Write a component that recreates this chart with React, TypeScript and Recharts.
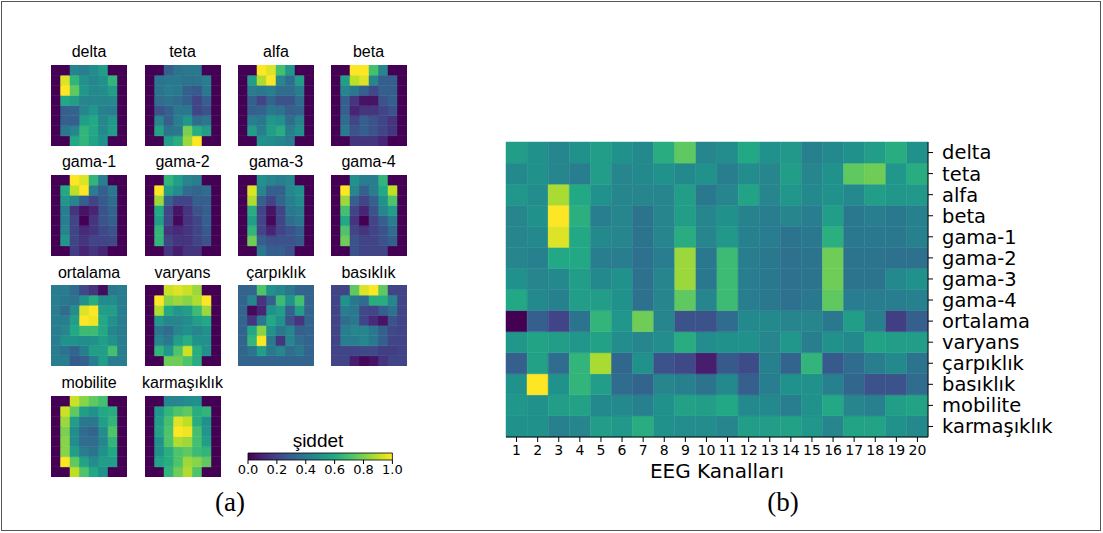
import React from 'react';
import { BarChart, Bar, Cell, XAxis, YAxis } from 'recharts';

// ---------- data ----------
const channels = ['1','2','3','4','5','6','7','8','9','10','11','12','13','14','15','16','17','18','19','20'];
const features = ['delta','teta','alfa','beta','gama-1','gama-2','gama-3','gama-4','ortalama','varyans','çarpıklık','basıklık','mobilite','karmaşıklık'];

// rows = features (top to bottom), cols = channels 1..20
const deltaRow = [0.55,0.5,0.45,0.5,0.55,0.5,0.47,0.62,0.75,0.45,0.48,0.6,0.5,0.53,0.43,0.47,0.5,0.55,0.62,0.5];
const tetaRow = [0.47,0.5,0.45,0.42,0.55,0.45,0.47,0.5,0.47,0.5,0.42,0.48,0.45,0.55,0.45,0.5,0.75,0.78,0.52,0.62];
const alfaRow = [0.52,0.48,0.87,0.6,0.5,0.45,0.45,0.45,0.55,0.4,0.45,0.58,0.45,0.52,0.47,0.5,0.47,0.55,0.52,0.53];
const betaRow = [0.45,0.5,1.0,0.63,0.42,0.45,0.38,0.45,0.55,0.45,0.5,0.44,0.42,0.45,0.42,0.55,0.4,0.42,0.4,0.43];
const gama1Row = [0.45,0.47,0.95,0.6,0.47,0.45,0.38,0.45,0.62,0.45,0.53,0.43,0.42,0.38,0.4,0.63,0.4,0.4,0.4,0.43];
const gama2Row = [0.45,0.43,0.6,0.6,0.42,0.42,0.37,0.42,0.85,0.4,0.68,0.42,0.4,0.37,0.38,0.78,0.38,0.38,0.37,0.37];
const gama3Row = [0.5,0.45,0.47,0.55,0.47,0.5,0.37,0.45,0.85,0.4,0.68,0.42,0.4,0.37,0.38,0.78,0.38,0.38,0.47,0.5];
const gama4Row = [0.6,0.47,0.43,0.55,0.55,0.5,0.37,0.45,0.75,0.45,0.68,0.42,0.4,0.37,0.4,0.75,0.42,0.42,0.42,0.43];
const ortalamaRow = [0.0,0.3,0.2,0.38,0.65,0.52,0.78,0.45,0.25,0.25,0.35,0.47,0.47,0.45,0.45,0.4,0.55,0.43,0.18,0.3];
const varyansRow = [0.52,0.58,0.55,0.52,0.57,0.48,0.45,0.48,0.62,0.48,0.5,0.5,0.45,0.52,0.42,0.5,0.47,0.58,0.55,0.55];
const carpiklikRow = [0.3,0.57,0.35,0.65,0.87,0.33,0.5,0.25,0.22,0.08,0.28,0.23,0.43,0.32,0.65,0.28,0.35,0.42,0.47,0.38];
const basiklikRow = [0.5,1.0,0.5,0.65,0.55,0.35,0.32,0.45,0.43,0.38,0.47,0.3,0.42,0.5,0.5,0.43,0.33,0.25,0.25,0.35];
const mobiliteRow = [0.52,0.5,0.55,0.57,0.47,0.47,0.43,0.5,0.57,0.55,0.6,0.47,0.47,0.42,0.5,0.6,0.45,0.43,0.55,0.58];
const karmasiklikRow = [0.5,0.5,0.43,0.45,0.55,0.53,0.62,0.5,0.48,0.48,0.45,0.55,0.55,0.57,0.52,0.45,0.58,0.58,0.5,0.47];

const bigRows = [deltaRow,tetaRow,alfaRow,betaRow,gama1Row,gama2Row,gama3Row,gama4Row,ortalamaRow,varyansRow,carpiklikRow,basiklikRow,mobiliteRow,karmasiklikRow];

// small 8x8 topographic maps (row 0 = top)
const mapDelta = [
  [0,0,0.45,0.42,0.48,0.55,0,0],
  [0,0.95,0.65,0.5,0.45,0.5,0.65,0],
  [0,1.0,0.75,0.52,0.47,0.48,0.55,0],
  [0,0.6,0.55,0.45,0.45,0.45,0.47,0],
  [0,0.3,0.32,0.45,0.52,0.43,0.42,0],
  [0,0.3,0.3,0.55,0.6,0.45,0.53,0],
  [0,0.4,0.45,0.65,0.6,0.47,0.55,0],
  [0,0,0.6,0.65,0.58,0.5,0,0],
];
const mapTeta = [
  [0,0,0.3,0.38,0.4,0.4,0,0],
  [0,0.38,0.4,0.4,0.38,0.38,0.42,0],
  [0,0.38,0.42,0.4,0.3,0.28,0.4,0],
  [0,0.35,0.38,0.35,0.3,0.2,0.3,0],
  [0,0.25,0.3,0.4,0.4,0.2,0.25,0],
  [0,0.45,0.3,0.42,0.52,0.35,0.4,0],
  [0,0.58,0.38,0.4,0.8,0.62,0.55,0],
  [0,0,0.55,0.62,0.85,1.0,0,0],
];
const mapAlfa = [
  [0,0,1.0,0.95,0.7,0.52,0,0],
  [0,0.55,0.88,1.0,0.45,0.35,0.55,0],
  [0,0.42,0.4,0.42,0.35,0.35,0.42,0],
  [0,0.3,0.2,0.32,0.25,0.25,0.35,0],
  [0,0.3,0.32,0.4,0.38,0.3,0.32,0],
  [0,0.42,0.4,0.52,0.5,0.35,0.45,0],
  [0,0.55,0.42,0.55,0.62,0.42,0.5,0],
  [0,0,0.5,0.48,0.45,0.42,0,0],
];
const mapBeta = [
  [0,0,1.0,1.0,0.7,0.45,0,0],
  [0,0.55,0.9,0.95,0.45,0.3,0.3,0],
  [0,0.45,0.4,0.3,0.22,0.3,0.3,0],
  [0,0.3,0.15,0.05,0.05,0.25,0.3,0],
  [0,0.3,0.1,0.15,0.15,0.2,0.25,0],
  [0,0.35,0.2,0.3,0.25,0.2,0.15,0],
  [0,0.4,0.25,0.3,0.25,0.2,0.15,0],
  [0,0,0.15,0.15,0.15,0.1,0,0],
];
const mapGama1 = [
  [0,0,1.0,0.95,0.65,0.42,0,0],
  [0,0.6,0.9,1.0,0.42,0.3,0.4,0],
  [0,0.52,0.45,0.3,0.2,0.28,0.35,0],
  [0,0.42,0.15,0.05,0.1,0.25,0.32,0],
  [0,0.42,0.2,0.0,0.15,0.25,0.3,0],
  [0,0.45,0.2,0.12,0.15,0.22,0.25,0],
  [0,0.52,0.2,0.15,0.2,0.2,0.22,0],
  [0,0,0.18,0.1,0.15,0.1,0,0],
];
const mapGama2 = [
  [0,0,0.65,0.55,0.45,0.42,0,0],
  [0,1.0,0.55,0.48,0.35,0.32,0.35,0],
  [0,0.85,0.3,0.2,0.2,0.3,0.3,0],
  [0,0.6,0.2,0.05,0.15,0.25,0.3,0],
  [0,0.55,0.2,0.02,0.15,0.2,0.3,0],
  [0,0.65,0.15,0.12,0.15,0.2,0.28,0],
  [0,0.65,0.2,0.15,0.15,0.2,0.25,0],
  [0,0,0.15,0.08,0.15,0.15,0,0],
];
const mapGama3 = [
  [0,0,0.5,0.45,0.42,0.45,0,0],
  [0,0.95,0.45,0.3,0.3,0.45,0.5,0],
  [0,0.88,0.3,0.2,0.32,0.42,0.48,0],
  [0,0.62,0.2,0.05,0.2,0.4,0.42,0],
  [0,0.55,0.2,0.02,0.2,0.35,0.4,0],
  [0,0.65,0.2,0.1,0.2,0.25,0.3,0],
  [0,0.78,0.3,0.25,0.25,0.25,0.28,0],
  [0,0,0.4,0.3,0.3,0.25,0,0],
];
const mapGama4 = [
  [0,0,0.5,0.42,0.42,0.65,0,0],
  [0,1.0,0.45,0.3,0.42,0.6,0.9,0],
  [0,0.85,0.3,0.2,0.3,0.5,0.72,0],
  [0,0.7,0.2,0.1,0.25,0.45,0.55,0],
  [0,0.6,0.15,0.0,0.2,0.3,0.42,0],
  [0,0.72,0.2,0.15,0.2,0.25,0.35,0],
  [0,0.78,0.25,0.2,0.2,0.25,0.3,0],
  [0,0,0.25,0.2,0.2,0.2,0,0],
];
const mapOrtalama = [
  [0.42,0.42,0.35,0.22,0.15,0.03,0.4,0.42],
  [0.42,0.4,0.38,0.5,0.62,0.48,0.48,0.42],
  [0.42,0.35,0.48,0.95,1.0,0.55,0.55,0.42],
  [0.42,0.42,0.55,1.0,0.98,0.6,0.5,0.42],
  [0.42,0.45,0.6,0.68,0.68,0.6,0.45,0.42],
  [0.42,0.5,0.5,0.48,0.5,0.55,0.5,0.42],
  [0.42,0.38,0.32,0.42,0.55,0.55,0.7,0.42],
  [0.42,0.42,0.28,0.3,0.42,0.55,0.42,0.42],
];
const mapVaryans = [
  [0,0,0.92,0.95,0.92,0.85,0,0],
  [0,1.0,0.82,0.85,0.82,0.88,1.0,0],
  [0,0.88,0.6,0.52,0.55,0.68,0.85,0],
  [0,0.52,0.45,0.45,0.48,0.55,0.6,0],
  [0,0.4,0.35,0.45,0.5,0.45,0.5,0],
  [0,0.45,0.4,0.55,0.62,0.5,0.5,0],
  [0,0.65,0.52,0.72,0.92,0.62,0.5,0],
  [0,0,0.78,0.78,0.72,0.62,0,0],
];
const mapCarpiklik = [
  [0.32,0.32,0.72,0.5,0.45,0.4,0.32,0.32],
  [0.32,0.45,0.15,0.3,0.68,0.5,0.7,0.32],
  [0.32,0.02,0.1,0.5,0.55,0.3,0.55,0.32],
  [0.32,0.15,0.4,0.6,0.5,0.25,0.15,0.32],
  [0.32,0.6,0.82,0.5,0.4,0.45,0.3,0.32],
  [0.32,0.65,1.0,0.4,0.15,0.45,0.35,0.32],
  [0.32,0.38,0.55,0.4,0.45,0.35,0.4,0.32],
  [0.32,0.32,0.32,0.32,0.32,0.32,0.32,0.32],
];
const mapBasiklik = [
  [0.2,0.2,0.75,0.95,1.0,0.75,0.2,0.2],
  [0.2,0.5,0.4,0.35,0.62,0.62,0.45,0.2],
  [0.2,0.42,0.4,0.22,0.2,0.3,0.38,0.2],
  [0.2,0.35,0.4,0.2,0.12,0.05,0.25,0.2],
  [0.2,0.42,0.45,0.45,0.4,0.3,0.22,0.2],
  [0.2,0.42,0.42,0.45,0.4,0.3,0.2,0.2],
  [0.2,0.2,0.2,0.22,0.22,0.18,0.18,0.2],
  [0.2,0.2,0.08,0.02,0.05,0.15,0.2,0.2],
];
const mapMobilite = [
  [0,0,0.92,0.82,0.75,0.7,0,0],
  [0,0.92,0.75,0.55,0.5,0.6,0.62,0],
  [0,0.85,0.55,0.4,0.4,0.55,0.65,0],
  [0,0.8,0.48,0.35,0.32,0.48,0.72,0],
  [0,0.82,0.48,0.35,0.35,0.45,0.65,0],
  [0,0.82,0.55,0.42,0.38,0.5,0.6,0],
  [0,1.0,0.75,0.58,0.48,0.55,0.55,0],
  [0,0,0.9,0.72,0.6,0.5,0,0],
];
const mapKarmasiklik = [
  [0,0,0.45,0.45,0.48,0.5,0,0],
  [0,0.52,0.65,0.72,0.75,0.62,0.65,0],
  [0,0.55,0.7,0.95,0.9,0.62,0.5,0],
  [0,0.58,0.72,1.0,0.98,0.7,0.52,0],
  [0,0.5,0.72,0.88,0.85,0.7,0.55,0],
  [0,0.5,0.62,0.72,0.75,0.68,0.65,0],
  [0,0.58,0.62,0.72,0.85,0.82,0.75,0],
  [0,0,0.65,0.78,0.88,0.72,0,0],
];

const smallTitles = ['delta','teta','alfa','beta','gama-1','gama-2','gama-3','gama-4','ortalama','varyans','çarpıklık','basıklık','mobilite','karmaşıklık'];
const smallGrids = [mapDelta,mapTeta,mapAlfa,mapBeta,mapGama1,mapGama2,mapGama3,mapGama4,mapOrtalama,mapVaryans,mapCarpiklik,mapBasiklik,mapMobilite,mapKarmasiklik];

const colorbarTicks = [0, 0.2, 0.4, 0.6, 0.8, 1.0];
const colorbarRange = [{ name: 'şiddet', from: 0, to: 1 }];
const colorbarLabel = 'şiddet';
const xAxisLabel = 'EEG Kanalları';

// ---------- colour map ----------
const VIRIDIS = ['#440154','#482475','#414487','#355f8d','#2a788e','#21918c','#22a884','#44bf70','#7ad151','#bddf26','#fde725'];
function hexToRgb(h: string) {
  return [parseInt(h.slice(1, 3), 16), parseInt(h.slice(3, 5), 16), parseInt(h.slice(5, 7), 16)];
}
function viridis(v: number): string {
  const x = Math.max(0, Math.min(1, v)) * 10;
  const i = Math.min(9, Math.floor(x));
  const t = x - i;
  const a = hexToRgb(VIRIDIS[i]);
  const b = hexToRgb(VIRIDIS[i + 1]);
  const c = a.map((av, k) => Math.round(av + (b[k] - av) * t));
  return `rgb(${c[0]},${c[1]},${c[2]})`;
}

const SANS = 'Liberation Sans, Arial, sans-serif';
const DEJAVU = 'DejaVu Sans, sans-serif';

// ---------- small heatmap ----------
function SmallMap({ grid, left, top }: { grid: number[][]; left: number; top: number }) {
  const nRows = grid.length;
  const nCols = grid[0].length;
  const data = Array.from({ length: nCols }, (_, c) => {
    const o: any = { c: String(c) };
    for (let r = 0; r < nRows; r++) o['r' + r] = 1;
    return o;
  });
  const order = Array.from({ length: nRows }, (_, i) => nRows - 1 - i);
  return (
    <div style={{ position: 'absolute', left, top }}>
      <BarChart width={76} height={81} data={data} margin={{ top: 0, right: 0, bottom: 0, left: 0 }} barCategoryGap={0} barGap={0}>
        <XAxis dataKey="c" hide />
        <YAxis type="number" domain={[0, nRows]} hide />
        {order.map((r) => (
          <Bar key={r} dataKey={'r' + r} stackId="s" isAnimationActive={false}>
            {grid[r].map((v, c) => (
              <Cell key={c} fill={viridis(v)} stroke={viridis(v)} strokeWidth={0.5} />
            ))}
          </Bar>
        ))}
      </BarChart>
    </div>
  );
}

// ---------- main ----------
export default function App() {
  const bigData = channels.map((ch) => {
    const o: any = { ch };
    features.forEach((_, r) => (o['f' + r] = 1));
    return o;
  });
  const bigOrder = features.map((_, i) => features.length - 1 - i);
  const yTicks = features.map((_, i) => i + 0.5);

  const mapX = [51, 144.5, 238, 330.5];
  const mapY = [64.5, 174.5, 285, 395.5];

  return (
    <div style={{ position: 'absolute', left: 0, top: 0, width: 1103, height: 533, background: '#fff', overflow: 'hidden' }}>
      <svg width={1} height={1} style={{ position: 'absolute', left: 0, top: 0 }}>
        <defs>
          <linearGradient id="viridisGrad" x1="0" y1="0" x2="1" y2="0">
            {VIRIDIS.map((c, i) => (
              <stop key={i} offset={i / 10} stopColor={c} />
            ))}
          </linearGradient>
        </defs>
      </svg>

      {smallGrids.map((g, i) => (
        <SmallMap key={i} grid={g} left={mapX[i % 4]} top={mapY[Math.floor(i / 4)]} />
      ))}

      {/* colorbar */}
      <div style={{ position: 'absolute', left: 238, top: 445 }}>
        <BarChart
          layout="vertical"
          width={170}
          height={40}
          data={colorbarRange}
          margin={{ top: 8, right: 15.6, bottom: 0, left: 10 }}
          barCategoryGap={0}
        >
          <XAxis
            type="number"
            domain={[0, 1]}
            ticks={colorbarTicks}
            tickFormatter={(v: number) => v.toFixed(1)}
            height={25}
            tickSize={4}
            tickMargin={1}
            axisLine={false}
            tickLine={{ stroke: '#000' }}
            tick={{ fill: '#000', fontSize: 13, fontFamily: DEJAVU }}
            interval={0}
          />
          <YAxis type="category" dataKey="name" hide />
          <Bar dataKey={(d: any) => [d.from, d.to]} fill="url(#viridisGrad)" stroke="#000" strokeWidth={0.8} isAnimationActive={false} />
        </BarChart>
      </div>

      {/* big heatmap */}
      <div style={{ position: 'absolute', left: 480, top: 120 }}>
        <BarChart width={620} height={370} data={bigData} margin={{ top: 22, right: 2, bottom: 0, left: 26 }} barCategoryGap={0} barGap={0}>
          <XAxis
            dataKey="ch"
            height={53}
            tickSize={5}
            tickMargin={3}
            interval={0}
            axisLine={{ stroke: '#000', strokeWidth: 1 }}
            tickLine={{ stroke: '#000' }}
            tick={{ fill: '#000', fontSize: 14, fontFamily: DEJAVU }}
          />
          <XAxis xAxisId="top" dataKey="ch" orientation="top" height={0} tick={false} tickLine={false} axisLine={{ stroke: '#000', strokeWidth: 1 }} />
          <YAxis
            type="number"
            orientation="right"
            domain={[0, features.length]}
            ticks={yTicks}
            interval={0}
            width={170}
            tickSize={5}
            tickMargin={9}
            tickFormatter={(v: number) => features[features.length - 1 - Math.floor(v)]}
            axisLine={{ stroke: '#000', strokeWidth: 1 }}
            tickLine={{ stroke: '#000' }}
            tick={{ fill: '#000', fontSize: 19.5, fontFamily: DEJAVU, textAnchor: 'start' }}
          />
          <YAxis yAxisId="left" type="number" orientation="left" domain={[0, features.length]} width={0} tick={false} tickLine={false} axisLine={{ stroke: '#000', strokeWidth: 1 }} />
          {bigOrder.map((r) => (
            <Bar key={r} dataKey={'f' + r} stackId="s" isAnimationActive={false}>
              {bigRows[r].map((v, c) => (
                <Cell key={c} fill={viridis(v)} stroke={viridis(v)} strokeWidth={0.5} />
              ))}
            </Bar>
          ))}
        </BarChart>
      </div>

      {/* text overlay + frame */}
      <svg width={1103} height={533} style={{ position: 'absolute', left: 0, top: 0, pointerEvents: 'none' }}>
        <rect x={1.5} y={1.5} width={1099} height={529} fill="none" stroke="#555" strokeWidth={1} />
        {smallTitles.map((t, i) => (
          <text key={i} x={mapX[i % 4] + 38} y={mapY[Math.floor(i / 4)] - 7.5} textAnchor="middle" fontFamily={SANS} fontSize={16} fill="#000">
            {t}
          </text>
        ))}
        <text x={318} y={447} textAnchor="middle" fontFamily={SANS} fontSize={19} fill="#000">{colorbarLabel}</text>
        <text x={717} y={478} textAnchor="middle" fontFamily={DEJAVU} fontSize={20} fill="#000">{xAxisLabel}</text>
        <text x={230} y={511} textAnchor="middle" fontFamily="Liberation Serif, Times New Roman, serif" fontSize={27} fill="#000">(a)</text>
        <text x={783} y={511} textAnchor="middle" fontFamily="Liberation Serif, Times New Roman, serif" fontSize={27} fill="#000">(b)</text>
      </svg>
    </div>
  );
}
